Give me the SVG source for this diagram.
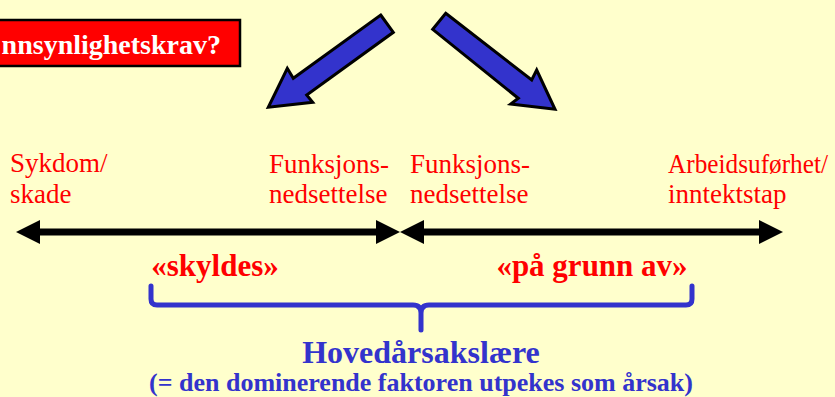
<svg xmlns="http://www.w3.org/2000/svg" width="835" height="397" viewBox="0 0 835 397">
  <defs>
    <style>
      .lbl { font-family: "Liberation Serif", "Times New Roman", serif; font-size: 27px; fill: #FF0000; }
      .rel { font-family: "Liberation Serif", "Times New Roman", serif; font-size: 31px; font-weight: bold; fill: #FF0000; text-anchor: middle; }
      .blue { font-family: "Liberation Serif", "Times New Roman", serif; font-weight: bold; fill: #3333CC; text-anchor: middle; }
      .bigarrow { fill: #3333CC; stroke: #000000; stroke-width: 3; stroke-linejoin: miter; }
      .shaft { stroke: #000000; stroke-width: 7; fill: none; }
    </style>
    <marker id="head" viewBox="0 0 24 24" markerUnits="userSpaceOnUse" markerWidth="24" markerHeight="24" refX="10" refY="12" orient="auto-start-reverse">
      <path d="M0,0 L24,12 L0,24 Z" fill="#000000"/>
    </marker>
  </defs>
  <rect width="835" height="397" fill="#FFFFCC"/>

  <g id="question-box">
    <rect x="-10" y="20" width="250" height="46" fill="#FF0000" stroke="#000000" stroke-width="2.5"/>
    <text x="221" y="54" font-family="'Liberation Serif', 'Times New Roman', serif" font-size="28" font-weight="bold" fill="#FFFFFF" text-anchor="end">nnsynlighetskrav?</text>
  </g>

  <g id="big-arrows">
    <polygon class="bigarrow" points="380.7,15 393.3,32.3 306.7,95 312.7,102.3 268.3,107.3 287.3,68.3 293.3,78.3"/>
    <polygon class="bigarrow" points="445.7,13.3 531.7,80 536.7,70 555,109.3 510.7,104 518.3,98.3 432.7,29.3"/>
  </g>

  <g id="node-sykdom">
    <text class="lbl" x="10" y="172">Sykdom/</text>
    <text class="lbl" x="10" y="203">skade</text>
  </g>
  <g id="node-funksjon-left">
    <text class="lbl" x="269" y="173">Funksjons-</text>
    <text class="lbl" x="269" y="203">nedsettelse</text>
  </g>
  <g id="node-funksjon-right">
    <text class="lbl" x="410" y="173">Funksjons-</text>
    <text class="lbl" x="410" y="203">nedsettelse</text>
  </g>
  <g id="node-arbeid">
    <text class="lbl" x="668" y="173" textLength="160" lengthAdjust="spacingAndGlyphs">Arbeidsuførhet/</text>
    <text class="lbl" x="668" y="203">inntektstap</text>
  </g>

  <g id="connectors">
    <line class="shaft" x1="30" y1="232" x2="386" y2="232" marker-start="url(#head)" marker-end="url(#head)"/>
    <line class="shaft" x1="414" y1="232" x2="769" y2="232" marker-start="url(#head)" marker-end="url(#head)"/>
  </g>

  <g id="relation-labels">
    <text class="rel" x="215" y="276">«skyldes»</text>
    <text class="rel" x="592" y="276">«på grunn av»</text>
  </g>

  <g id="brace">
    <path d="M151,286 L151,299 Q151,305 157,305 L413,305 Q421,305 421,313 L421,330 M421,313 Q421,305 429,305 L686,305 Q692,305 692,299 L692,286" fill="none" stroke="#3333CC" stroke-width="5" stroke-linecap="round" stroke-linejoin="round"/>
  </g>

  <g id="conclusion">
    <text class="blue" x="421" y="363" font-size="32">Hovedårsakslære</text>
    <text class="blue" x="421" y="391" font-size="26">(= den dominerende faktoren utpekes som årsak)</text>
  </g>
</svg>
